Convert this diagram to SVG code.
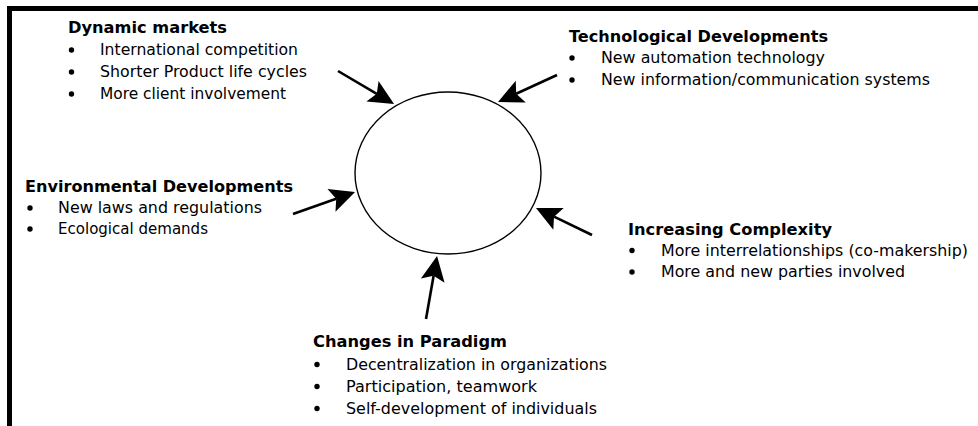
<svg xmlns="http://www.w3.org/2000/svg" width="978" height="426" viewBox="0 0 978 426">
<style>
text{font-family:"DejaVu Sans","Liberation Sans",sans-serif;font-size:15px;fill:#000}
.t{font-weight:bold}
.b{fill:#000}
.c{stroke:#000;stroke-width:2.6;fill:none;marker-end:url(#ah)}
.frame{fill:#000}
</style>
<defs>
<marker id="ah" markerUnits="userSpaceOnUse" viewBox="-6 -13 27 26" refX="0" refY="0" markerWidth="27" markerHeight="26" orient="auto">
<path d="M20,0 L-5,-12 L0,0 L-5,12 Z" fill="#000"/>
</marker>
</defs>
<rect width="978" height="426" fill="#fff"/>
<rect class="frame" x="7" y="6" width="971" height="5"/>
<rect class="frame" x="7" y="6" width="5" height="420"/>
<g id="center">
<ellipse cx="448" cy="173" rx="93" ry="81" fill="#fff" stroke="#000" stroke-width="1.4"/>
</g>
<g id="connectors">
<line class="c" x1="338" y1="71" x2="376.8" y2="93.8"/>
<line class="c" x1="557" y1="75" x2="516.2" y2="93.7"/>
<line class="c" x1="293" y1="214" x2="336.2" y2="198.7"/>
<line class="c" x1="592" y1="235" x2="554" y2="216.7"/>
<line class="c" x1="426" y1="319" x2="433.6" y2="275.7"/>
</g>
<g id="dynamic-markets">
<text class="t" x="68" y="33" textLength="159" lengthAdjust="spacingAndGlyphs">Dynamic markets</text>
<circle class="b" cx="71.5" cy="50" r="2.7"/>
<text x="100" y="55" textLength="198" lengthAdjust="spacingAndGlyphs">International competition</text>
<circle class="b" cx="71.5" cy="72" r="2.7"/>
<text x="100" y="77" textLength="207" lengthAdjust="spacingAndGlyphs">Shorter Product life cycles</text>
<circle class="b" cx="71.5" cy="94" r="2.7"/>
<text x="100" y="99" textLength="186" lengthAdjust="spacingAndGlyphs">More client involvement</text>
</g>
<g id="technological-developments">
<text class="t" x="569" y="42" textLength="259" lengthAdjust="spacingAndGlyphs">Technological Developments</text>
<circle class="b" cx="572" cy="58" r="2.7"/>
<text x="601" y="63" textLength="224" lengthAdjust="spacingAndGlyphs">New automation technology</text>
<circle class="b" cx="572" cy="80" r="2.7"/>
<text x="601" y="85" textLength="329" lengthAdjust="spacingAndGlyphs">New information/communication systems</text>
</g>
<g id="environmental-developments">
<text class="t" x="25" y="192" textLength="268" lengthAdjust="spacingAndGlyphs">Environmental Developments</text>
<circle class="b" cx="30" cy="208" r="2.7"/>
<text x="58" y="213" textLength="204" lengthAdjust="spacingAndGlyphs">New laws and regulations</text>
<circle class="b" cx="30" cy="229" r="2.7"/>
<text x="58" y="234" textLength="150" lengthAdjust="spacingAndGlyphs">Ecological demands</text>
</g>
<g id="increasing-complexity">
<text class="t" x="628" y="235" textLength="204" lengthAdjust="spacingAndGlyphs">Increasing Complexity</text>
<circle class="b" cx="632" cy="250.5" r="2.7"/>
<text x="661" y="255.5" textLength="307" lengthAdjust="spacingAndGlyphs">More interrelationships (co-makership)</text>
<circle class="b" cx="632" cy="272" r="2.7"/>
<text x="661" y="277" textLength="244" lengthAdjust="spacingAndGlyphs">More and new parties involved</text>
</g>
<g id="changes-in-paradigm">
<text class="t" x="313" y="347" textLength="194" lengthAdjust="spacingAndGlyphs">Changes in Paradigm</text>
<circle class="b" cx="317" cy="364.5" r="2.7"/>
<text x="346" y="369.5" textLength="261" lengthAdjust="spacingAndGlyphs">Decentralization in organizations</text>
<circle class="b" cx="317" cy="386.5" r="2.7"/>
<text x="346" y="391.5" textLength="191" lengthAdjust="spacingAndGlyphs">Participation, teamwork</text>
<circle class="b" cx="317" cy="408.5" r="2.7"/>
<text x="346" y="413.5" textLength="251" lengthAdjust="spacingAndGlyphs">Self-development of individuals</text>
</g>
</svg>
